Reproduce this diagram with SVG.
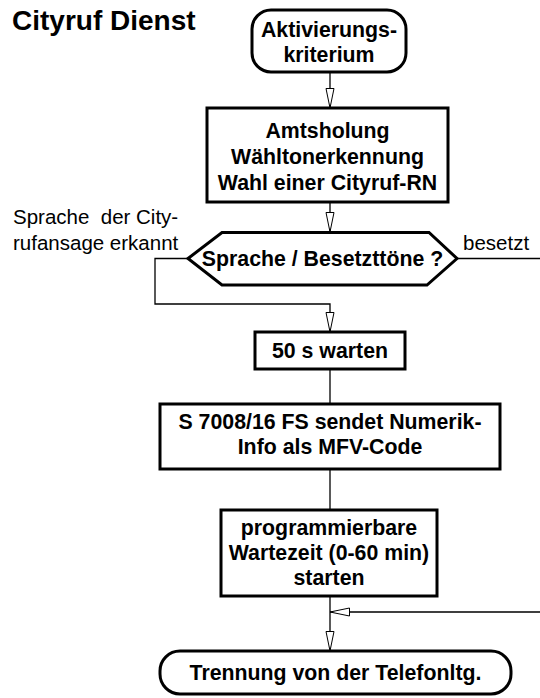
<svg xmlns="http://www.w3.org/2000/svg" width="540" height="698" viewBox="0 0 540 698">
<style>
text{font-family:"Liberation Sans",Arial,sans-serif;fill:#000}
.b{font-weight:bold;font-size:21.3px;text-anchor:middle}
.l{font-size:20.5px}
.t{font-weight:bold;font-size:28px}
.node{fill:#fff;stroke:#000;stroke-width:3}
.con{fill:none;stroke:#000;stroke-width:1.3}
</style>
<defs>
<marker id="arr" markerWidth="22" markerHeight="10" refX="20" refY="4.5" orient="auto" markerUnits="userSpaceOnUse">
<path d="M0.5,0.5 L20,4.5 L0.5,8.5 Z" fill="#fff" stroke="#000" stroke-width="1"/>
</marker>
</defs>
<text class="t" x="12" y="30">Cityruf Dienst</text>
<g id="connectors">
<path class="con" d="M330,72 V108" marker-end="url(#arr)"/>
<path class="con" d="M330,202 V232" marker-end="url(#arr)"/>
<path class="con" d="M188,258.5 H155 V304 H330 V332" marker-end="url(#arr)"/>
<path class="con" d="M330,369 V404"/>
<path class="con" d="M330,469 V510"/>
<path class="con" d="M330,596 V651" marker-end="url(#arr)"/>
<path class="con" d="M457,258.5 H542 V612 H330" marker-end="url(#arr)"/>
</g>
<g id="start">
<rect class="node" x="252" y="10" width="154" height="62" rx="19"/>
<text class="b" x="329" y="37">Aktivierungs-</text>
<text class="b" x="329" y="62">kriterium</text>
</g>
<g id="amt">
<rect class="node" x="207" y="108" width="241" height="94"/>
<text class="b" x="327.5" y="138">Amtsholung</text>
<text class="b" x="327.5" y="164">Wähltonerkennung</text>
<text class="b" x="327.5" y="190">Wahl einer Cityruf-RN</text>
</g>
<g id="decision">
<path class="node" d="M188,258.5 L222,232.5 H429 L457,258.5 L427,285 H222 Z"/>
<text class="b" x="322.5" y="266">Sprache / Besetzttöne ?</text>
</g>
<g id="labels">
<text class="l" x="13" y="224" xml:space="preserve">Sprache  der City-</text>
<text class="l" x="13" y="250">rufansage erkannt</text>
<text class="l" x="463" y="250">besetzt</text>
</g>
<g id="wait50">
<rect class="node" x="255" y="332" width="150" height="37"/>
<text class="b" x="330" y="358">50 s warten</text>
</g>
<g id="send">
<rect class="node" x="160" y="404" width="340" height="65"/>
<text class="b" x="330" y="429">S 7008/16 FS sendet Numerik-</text>
<text class="b" x="330" y="454">Info als MFV-Code</text>
</g>
<g id="prog">
<rect class="node" x="221" y="510" width="216" height="86"/>
<text class="b" x="329" y="535">programmierbare</text>
<text class="b" x="329" y="560">Wartezeit (0-60 min)</text>
<text class="b" x="329" y="585">starten</text>
</g>
<g id="end">
<rect class="node" x="160" y="651" width="351" height="43" rx="20"/>
<text class="b" x="335.5" y="680">Trennung von der Telefonltg.</text>
</g>
</svg>
